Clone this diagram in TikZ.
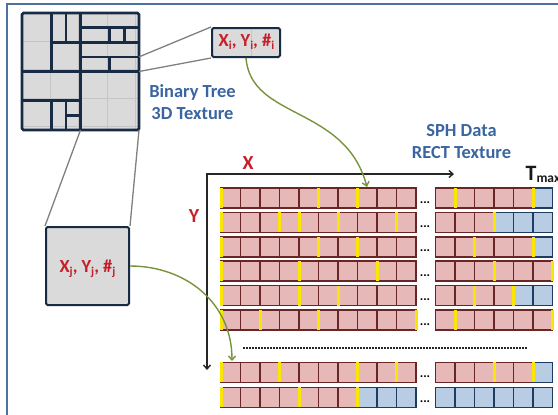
\documentclass[tikz,border=0pt]{standalone}
\usepackage{fontspec}
\setmainfont{Carlito}
\usetikzlibrary{arrows.meta}
\definecolor{frameblue}{RGB}{79,113,160}
\definecolor{navy}{RGB}{23,43,69}
\definecolor{cellgray}{RGB}{218,218,218}
\definecolor{gridline}{RGB}{196,196,196}
\definecolor{txtblue}{RGB}{58,101,160}
\definecolor{txtred}{RGB}{200,30,40}
\definecolor{pinkfill}{RGB}{230,185,184}
\definecolor{pinkline}{RGB}{105,38,38}
\definecolor{bluefill}{RGB}{184,204,228}
\definecolor{blueline}{RGB}{30,60,95}
\definecolor{markyellow}{RGB}{250,230,0}
\definecolor{curvegreen}{RGB}{119,147,60}
\definecolor{conngray}{RGB}{128,128,128}
\newcommand\mysub[2]{{\fontsize{#2}{#2}\selectfont\raisebox{-0.28\height}{#1}}}
\newcommand\cellrow[4]{% ytop, x0, ncells, blue start index
  \foreach \k in {1,...,#3} {
    \pgfmathtruncatemacro\idx{\k-1}
    \ifnum\idx<#4\relax\def\cellsty{pinkcell}\else\def\cellsty{bluecell}\fi
    \draw[\cellsty] ({#2+\idx*19.5},#1) rectangle ++(19.5,20);
  }}
\newcommand\markrow[3]{% ytop, x0, list
  \foreach \m in {#3} {\draw[yellowbar] ({#2+\m*19.5},#1) -- ++(0,20);}}
\begin{document}
\begin{tikzpicture}[x=1bp,y=-1bp,
  pinkcell/.style={fill=pinkfill,draw=pinkline,line width=1.5bp},
  bluecell/.style={fill=bluefill,draw=blueline,line width=1.5bp},
  yellowbar/.style={draw=markyellow,line width=3bp},
  zoombox/.style={draw=navy,line width=2bp,fill=cellgray,rounded corners=1.5bp,inner sep=0pt},
  conn/.style={draw=conngray,line width=1.3bp},
  bluetxt/.style={text=txtblue,font=\bfseries\fontsize{18.5}{22}\selectfont,anchor=base,inner sep=0pt},
  redtxt/.style={text=txtred,font=\bfseries\fontsize{18.5}{22}\selectfont,anchor=base,inner sep=0pt},
  axislbl/.style={text=txtred,font=\bfseries\fontsize{20}{24}\selectfont,anchor=base,inner sep=0pt},
  dotstxt/.style={font=\bfseries\fontsize{13}{13}\selectfont,inner sep=0pt,anchor=base},
  greenarrow/.style={draw=curvegreen,line width=1.4bp,-{Straight Barb[length=4bp,width=7bp]}},
  axis/.style={draw=black!85,line width=1.4bp},
]
\useasboundingbox (0,0) rectangle (558,414);
\clip (0,0) rectangle (558,414);
\fill[white] (0,0) rectangle (558,414);
\draw[frameblue,line width=1.5bp] (7,420) -- (7,4) -- (565,4);

% binary tree grid
\begin{scope}[shift={(22,13)},x=14.625bp,y=-14.625bp]
  \fill[cellgray] (0,0) rectangle (8,8);
  \draw[gridline,line width=0.8bp] (0,0) grid (8,8);
  \draw[navy,line width=2.6bp,line cap=rect]
    (2,0)--(2,4) (3,0)--(3,2) (4,0)--(4,8) (0,4)--(8,4) (2,2)--(8,2)
    (4,1)--(8,1) (4,3)--(8,3) (6,1)--(6,2) (7,1)--(7,2) (6,3)--(6,4)
    (0,6)--(4,6) (2,6)--(2,8) (3,6)--(3,8) (3,7)--(4,7);
  \draw[navy,line width=2.6bp,rounded corners=1.5bp] (0,0) rectangle (8,8);
  \coordinate (g34) at (8,3);
  \coordinate (g44) at (8,4);
  \coordinate (gb4) at (4,8);
  \coordinate (gb8) at (8,8);
\end{scope}

% zoomed boxes
\node[zoombox,minimum width=68bp,minimum height=29bp] (ibox) at (246,42.5) {};
\draw[gridline,line width=0.8bp] (251,29) -- (251,56);
\node[redtxt] (ilabel) at (246.5,46.7) {X\mysub{i}{12}, Y\mysub{i}{12}, \#\mysub{i}{12}};
\node[zoombox,minimum width=83bp,minimum height=78bp] (jbox) at (87.5,266) {};
\node[redtxt] (jlabel) at (87.5,272.7) {X\mysub{j}{12}, Y\mysub{j}{12}, \#\mysub{j}{12}};
\draw[conn] (g34) -- (ibox.north west);
\draw[conn] (g44) -- (ibox.south west);
\draw[conn] (gb4) -- (jbox.north west);
\draw[conn] (gb8) -- (jbox.north east);

% titles
\node[bluetxt] (bt1) at (192.5,97.3) {Binary Tree};
\node[bluetxt] (bt2) at (192.5,119.5) {3D Texture};
\node[bluetxt] (sp1) at (461.5,136) {SPH Data};
\node[bluetxt] (sp2) at (461.5,158) {RECT Texture};
\node[axislbl] (xl) at (248,169.3) {X};
\node[axislbl] (yl) at (194,222.7) {Y};
\node[font=\bfseries\fontsize{22}{24}\selectfont,text=black!90,anchor=base west,inner sep=0pt] (tmax) at (525.5,180.7) {T\mysub{max}{13.5}};

% axes
\coordinate (O) at (207,174);
\coordinate (xend) at (454,174);
\coordinate (yend) at (207,370);
\draw[axis,{Straight Barb[length=4bp,width=7bp]}-{Straight Barb[length=4bp,width=7bp]}] (yend) -- (O) -- (xend);

% data rows
\foreach \yt/\lb/\rb [count=\r] in {188/11/5, 212.4/11/3, 236.8/11/5, 261.2/11/7, 285.6/11/4, 310/11/7, 362.3/11/5, 387.3/7/0} {
  \cellrow{\yt}{221}{10}{\lb}
  \cellrow{\yt}{435.5}{6}{\rb}
  \node[dotstxt] (dots\r) at (425,{\yt+15}) {...};
}
\markrow{188}{221}{0,5,7}
\markrow{212.4}{221}{0,3,4,6,9}
\markrow{236.8}{221}{0,5,7}
\markrow{261.2}{221}{0,4,8}
\markrow{285.6}{221}{0,4,6}
\markrow{310}{221}{0,2,5,10}
\markrow{362.3}{221}{0,3,7,9}
\markrow{387.3}{221}{0,4,7}
\markrow{188}{435.5}{1,5}
\markrow{212.4}{435.5}{3}
\markrow{236.8}{435.5}{2,5}
\markrow{261.2}{435.5}{3,6}
\markrow{285.6}{435.5}{2,4}
\markrow{310}{435.5}{1,6}
\markrow{362.3}{435.5}{3,5}

% separator
\coordinate (dl) at (243,348);
\coordinate (dr) at (528,348);
\draw[black!85,line width=1.6bp,dash pattern=on 2bp off 1bp] (dl) -- (dr);

% green connectors
\coordinate (t1) at (367,187);
\coordinate (t2) at (232,361);
\draw[greenarrow] (ibox.south) .. controls (251,120) and (345,105) .. (t1);
\draw[greenarrow] (jbox.east) .. controls (185,266) and (232,302) .. (t2);
\end{tikzpicture}
\end{document}
